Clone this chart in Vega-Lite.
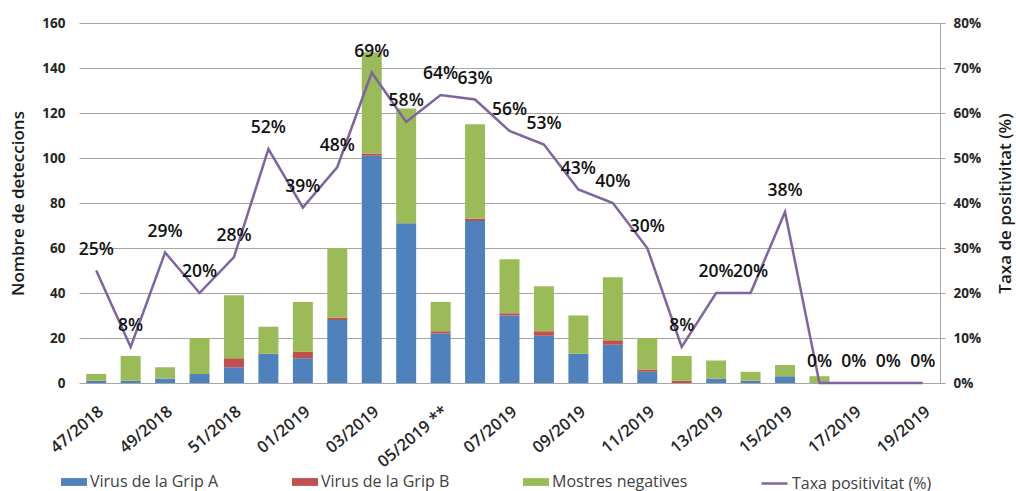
{
  "$schema": "https://vega.github.io/schema/vega-lite/v6.json",
  "width": 861,
  "height": 360,
  "autosize": {"type": "none"},
  "padding": {"left": 79, "top": 23, "right": 76, "bottom": 108},
  "background": "white",
  "config": {
    "font": "Open Sans",
    "view": {"stroke": null},
    "axis": {"labelColor": "#262626", "titleColor": "#1a1a1a", "labelFont": "Open Sans", "titleFont": "Open Sans"},
    "legend": {"padding": 0}
  },
  "datasets": {
    "setmanes": [
      {"setmana": "47/2018", "grip_a": 1, "grip_b": 0, "negatives": 3, "taxa": 0.25},
      {"setmana": "48/2018", "grip_a": 1, "grip_b": 0, "negatives": 11, "taxa": 0.08},
      {"setmana": "49/2018", "grip_a": 2, "grip_b": 0, "negatives": 5, "taxa": 0.29},
      {"setmana": "50/2018", "grip_a": 4, "grip_b": 0, "negatives": 16, "taxa": 0.20},
      {"setmana": "51/2018", "grip_a": 7, "grip_b": 4, "negatives": 28, "taxa": 0.28},
      {"setmana": "52/2018", "grip_a": 13, "grip_b": 0, "negatives": 12, "taxa": 0.52},
      {"setmana": "01/2019", "grip_a": 11, "grip_b": 3, "negatives": 22, "taxa": 0.39},
      {"setmana": "02/2019", "grip_a": 28, "grip_b": 1, "negatives": 31, "taxa": 0.48},
      {"setmana": "03/2019", "grip_a": 101, "grip_b": 1, "negatives": 45, "taxa": 0.69},
      {"setmana": "04/2019", "grip_a": 71, "grip_b": 0, "negatives": 51, "taxa": 0.58},
      {"setmana": "05/2019 **", "grip_a": 22, "grip_b": 1, "negatives": 13, "taxa": 0.64},
      {"setmana": "06/2019", "grip_a": 72, "grip_b": 1, "negatives": 42, "taxa": 0.63},
      {"setmana": "07/2019", "grip_a": 30, "grip_b": 1, "negatives": 24, "taxa": 0.56},
      {"setmana": "08/2019", "grip_a": 21, "grip_b": 2, "negatives": 20, "taxa": 0.53},
      {"setmana": "09/2019", "grip_a": 13, "grip_b": 0, "negatives": 17, "taxa": 0.43},
      {"setmana": "10/2019", "grip_a": 17, "grip_b": 2, "negatives": 28, "taxa": 0.40},
      {"setmana": "11/2019", "grip_a": 5, "grip_b": 1, "negatives": 14, "taxa": 0.30},
      {"setmana": "12/2019", "grip_a": 0, "grip_b": 1, "negatives": 11, "taxa": 0.08},
      {"setmana": "13/2019", "grip_a": 2, "grip_b": 0, "negatives": 8, "taxa": 0.20},
      {"setmana": "14/2019", "grip_a": 1, "grip_b": 0, "negatives": 4, "taxa": 0.20},
      {"setmana": "15/2019", "grip_a": 3, "grip_b": 0, "negatives": 5, "taxa": 0.38},
      {"setmana": "16/2019", "grip_a": 0, "grip_b": 0, "negatives": 3, "taxa": 0},
      {"setmana": "17/2019", "grip_a": 0, "grip_b": 0, "negatives": 0, "taxa": 0},
      {"setmana": "18/2019", "grip_a": 0, "grip_b": 0, "negatives": 0, "taxa": 0},
      {"setmana": "19/2019", "grip_a": 0, "grip_b": 0, "negatives": 0, "taxa": 0}
    ]
  },
  "data": {"name": "setmanes"},
  "encoding": {
    "x": {
      "field": "setmana",
      "type": "nominal",
      "sort": null,
      "scale": {"paddingInner": 0.42, "paddingOuter": 0.21},
      "axis": {
        "title": null,
        "values": ["47/2018", "49/2018", "51/2018", "01/2019", "03/2019", "05/2019 **", "07/2019", "09/2019", "11/2019", "13/2019", "15/2019", "17/2019", "19/2019"],
        "labelAngle": -40,
        "labelFontSize": 16.5,
        "labelFontWeight": 600,
        "labelPadding": 20,
        "ticks": false,
        "domain": false,
        "grid": false
      }
    }
  },
  "layer": [
    {
      "transform": [{"fold": ["grip_a", "grip_b", "negatives"], "as": ["serie", "n"]}],
      "mark": {"type": "bar"},
      "encoding": {
        "y": {
          "field": "n",
          "type": "quantitative",
          "stack": "zero",
          "scale": {"domain": [0, 160]},
          "axis": {
            "title": "Nombre de deteccions",
            "titleFontSize": 17,
            "titleFontWeight": 600,
            "titlePadding": 14,
            "values": [0, 20, 40, 60, 80, 100, 120, 140, 160],
            "labelFontSize": 13.5,
            "labelFontWeight": "bold",
            "labelPadding": 14,
            "ticks": false,
            "domain": false,
            "grid": true,
            "gridColor": "#a6a6a6",
            "gridWidth": 1.2
          }
        },
        "order": {"field": "serie", "type": "nominal", "sort": "ascending"},
        "color": {
          "field": "serie",
          "type": "nominal",
          "sort": ["grip_a", "grip_b", "negatives"],
          "scale": {"domain": ["grip_a", "grip_b", "negatives"], "range": ["#4f81bd", "#c0504d", "#9bbb59"]},
          "legend": {
            "title": null,
            "orient": "none",
            "legendX": -18,
            "legendY": 446,
            "direction": "horizontal",
            "gridAlign": "all",
            "columnPadding": 66,
            "symbolType": "M-1,-0.3H1V0.3H-1Z",
            "symbolSize": 676,
            "symbolStrokeWidth": 0,
            "symbolOpacity": 1,
            "labelOffset": 3,
            "labelFontSize": 16,
            "labelColor": "#404040",
            "labelLimit": 300,
            "labelExpr": "datum.value === 'grip_a' ? 'Virus de la Grip A' : datum.value === 'grip_b' ? 'Virus de la Grip B' : 'Mostres negatives'"
          }
        }
      }
    },
    {
      "encoding": {
        "y": {
          "field": "taxa",
          "type": "quantitative",
          "scale": {"domain": [0, 0.8]},
          "axis": {
            "orient": "right",
            "title": "Taxa de positivitat (%)",
            "titleAngle": -90,
            "titleFontSize": 17,
            "titleFontWeight": 600,
            "titlePadding": 34,
            "format": ".0%",
            "values": [0, 0.1, 0.2, 0.3, 0.4, 0.5, 0.6, 0.7, 0.8],
            "labelFontSize": 13.5,
            "labelFontWeight": "bold",
            "labelPadding": 8,
            "tickSize": 5,
            "tickColor": "#a6a6a6",
            "domainColor": "#a6a6a6",
            "grid": false
          }
        }
      },
      "layer": [
        {
          "mark": {"type": "line", "strokeWidth": 2.5},
          "encoding": {
            "stroke": {
              "datum": "Taxa positivitat (%)",
              "type": "nominal",
              "scale": {"range": ["#7f64a2"]},
              "legend": {
                "title": null,
                "orient": "none",
                "legendX": 681,
                "legendY": 446,
                "symbolType": "stroke",
                "symbolSize": 676,
                "symbolStrokeWidth": 2.5,
                "labelOffset": 3,
                "labelFontSize": 16,
                "labelColor": "#404040",
                "labelLimit": 300
              }
            }
          }
        },
        {
          "mark": {"type": "text", "dy": -21, "fontSize": 17.5, "fontWeight": 600, "color": "#111111"},
          "encoding": {
            "text": {"field": "taxa", "type": "quantitative", "format": ".0%"}
          }
        }
      ]
    }
  ],
  "resolve": {"scale": {"y": "independent"}}
}
